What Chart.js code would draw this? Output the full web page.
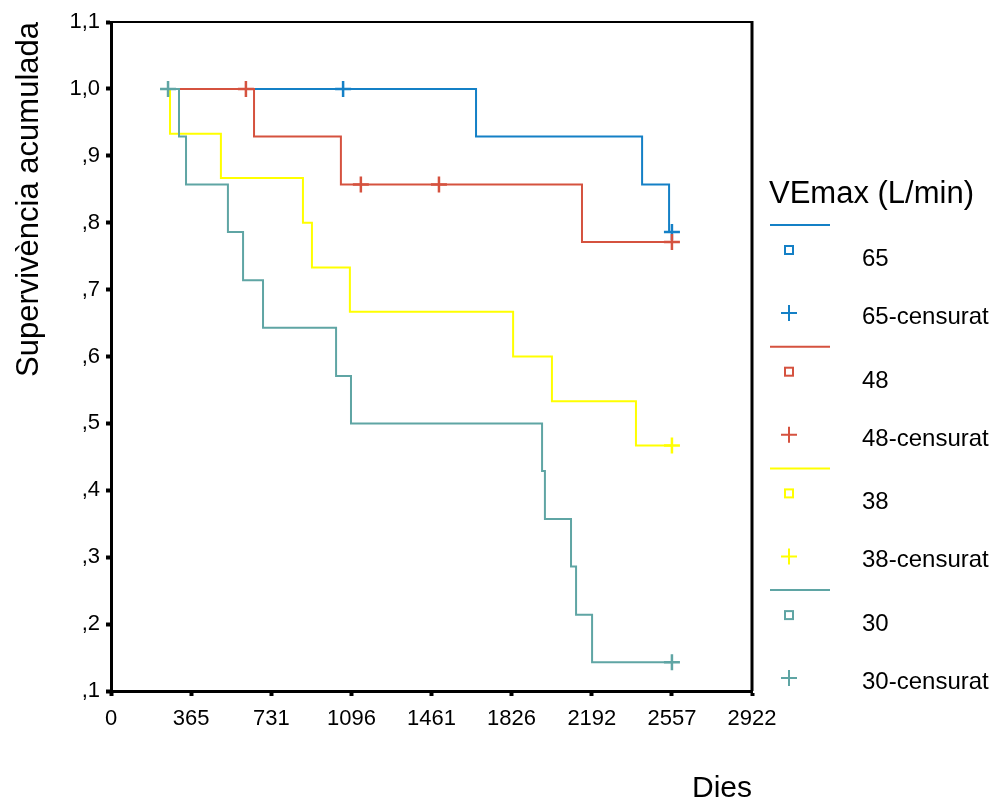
<!DOCTYPE html>
<html>
<head>
<meta charset="utf-8">
<title>Supervivència acumulada</title>
<script src="https://cdn.jsdelivr.net/npm/chart.js@4.4.1/dist/chart.umd.min.js"></script>
<style>
    html, body { margin: 0; padding: 0; background: #fff; }
    #wrap { width: 992px; height: 805px; }
</style>
</head>
<body>
<div id="wrap"><canvas id="graficoSupervivencia"></canvas></div>
<script>
// eixos
const xTicks = [0, 365, 731, 1096, 1461, 1826, 2192, 2557, 2922];
const yTicks = [0.1, 0.2, 0.3, 0.4, 0.5, 0.6, 0.7, 0.8, 0.9, 1.0, 1.1];
const yTickLabels = [',1', ',2', ',3', ',4', ',5', ',6', ',7', ',8', ',9', '1,0', '1,1'];

// grups de VEmax
const grups = ['65', '48', '38', '30'];
const colors = ['#1480c6', '#d5523f', '#ffff00', '#5fa5a4'];

// corbes de Kaplan-Meier: dies i supervivència acumulada
const dies65 = [255, 1664, 2421, 2544, 2557];
const surv65 = [1.0, 0.929, 0.857, 0.786, 0.786];
const dies48 = [255, 652, 1048, 2147, 2557];
const surv48 = [1.0, 0.929, 0.857, 0.771, 0.771];
const dies38 = [255, 269, 501, 875, 916, 1089, 1833, 2010, 2393, 2557];
const surv38 = [1.0, 0.933, 0.867, 0.8, 0.733, 0.667, 0.6, 0.533, 0.467, 0.467];
const dies30 = [255, 310, 342, 533, 602, 693, 1026, 1094, 1965, 1978, 2097, 2120, 2193, 2557];
const surv30 = [1.0, 0.929, 0.857, 0.786, 0.714, 0.643, 0.571, 0.5, 0.429, 0.357, 0.286, 0.214, 0.143, 0.143];

// casos censurats
const censDies65 = [1058, 2557];
const censSurv65 = [1.0, 0.786];
const censDies48 = [615, 1139, 1495, 2557];
const censSurv48 = [1.0, 0.857, 0.857, 0.771];
const censDies38 = [2557];
const censSurv38 = [0.467];
const censDies30 = [260, 2557];
const censSurv30 = [1.0, 0.143];

const FONT = "'Liberation Sans', Arial, sans-serif";

function punts(dies, valors) {
    return dies.map((d, i) => ({ x: d, y: valors[i] }));
}

const corbes = [
    [dies65, surv65, censDies65, censSurv65],
    [dies48, surv48, censDies48, censSurv48],
    [dies38, surv38, censDies38, censSurv38],
    [dies30, surv30, censDies30, censSurv30]
];

// el primer conjunt es dibuixa a sobre, per això van en ordre invers
const datasets = [];
for (let g = corbes.length - 1; g >= 0; g--) {
    const [d, s, cd, cs] = corbes[g];
    datasets.push({
        label: grups[g],
        data: punts(d, s),
        borderColor: colors[g],
        borderWidth: 2,
        stepped: 'before',
        pointRadius: 0,
        fill: false
    });
    datasets.push({
        label: grups[g] + '-censurat',
        data: punts(cd, cs),
        showLine: false,
        pointStyle: 'cross',
        pointRadius: 8,
        pointBorderWidth: 2.5,
        borderColor: colors[g],
        backgroundColor: colors[g]
    });
}

// marc superior/dret i llegenda al costat
const marcLlegenda = {
    id: 'marcLlegenda',
    afterDraw(chart) {
        const ctx = chart.ctx;
        const a = chart.chartArea;
        ctx.save();
        ctx.strokeStyle = '#000';
        ctx.lineWidth = 2;
        ctx.beginPath();
        ctx.moveTo(a.left, a.top);
        ctx.lineTo(a.right, a.top);
        ctx.stroke();
        ctx.lineWidth = 3;
        ctx.beginPath();
        ctx.moveTo(a.right, a.top - 1);
        ctx.lineTo(a.right, a.bottom);
        ctx.stroke();

        ctx.fillStyle = '#000';
        ctx.textAlign = 'left';
        ctx.textBaseline = 'alphabetic';
        ctx.font = '31px ' + FONT;
        ctx.fillText('VEmax (L/min)', 769, 203);

        ctx.font = '24px ' + FONT;
        grups.forEach((g, i) => {
            const y0 = 225 + i * 121.7;
            ctx.strokeStyle = colors[i];
            ctx.lineWidth = 2;
            ctx.beginPath();
            ctx.moveTo(770, y0);
            ctx.lineTo(830, y0);
            ctx.stroke();

            ctx.strokeRect(785, y0 + 21, 8, 8);

            ctx.beginPath();
            ctx.moveTo(781, y0 + 88);
            ctx.lineTo(797, y0 + 88);
            ctx.moveTo(789, y0 + 80);
            ctx.lineTo(789, y0 + 96);
            ctx.stroke();

            ctx.fillStyle = '#000';
            ctx.fillText(g, 862, y0 + 41);
            ctx.fillText(g + '-censurat', 862, y0 + 99);
        });
        ctx.restore();
    }
};

new Chart(document.getElementById('graficoSupervivencia'), {
    type: 'line',
    data: { datasets: datasets },
    options: {
        responsive: true,
        maintainAspectRatio: false,
        animation: false,
        layout: { padding: { top: 22, right: 240, bottom: 0, left: 0 } },
        plugins: {
            legend: { display: false },
            tooltip: { enabled: false }
        },
        scales: {
            x: {
                type: 'linear',
                min: 0,
                max: 2922,
                afterBuildTicks: scale => { scale.ticks = xTicks.map(v => ({ value: v })); },
                afterFit: scale => { scale.height = 114; },
                ticks: {
                    autoSkip: false,
                    maxRotation: 0,
                    padding: 10,
                    color: '#000',
                    font: { family: FONT, size: 22 },
                    callback: value => String(value)
                },
                grid: {
                    drawOnChartArea: false,
                    tickLength: 5,
                    tickWidth: 4,
                    tickColor: '#000'
                },
                border: { display: true, color: '#000', width: 3 },
                title: {
                    display: true,
                    text: 'Dies',
                    align: 'end',
                    color: '#000',
                    font: { family: FONT, size: 30, lineHeight: 1 },
                    padding: { top: 0, bottom: 1 }
                }
            },
            y: {
                min: 0.1,
                max: 1.1,
                afterBuildTicks: scale => { scale.ticks = yTicks.map(v => ({ value: v })); },
                afterFit: scale => { scale.width = 111; },
                ticks: {
                    autoSkip: false,
                    padding: 6,
                    color: '#000',
                    font: { family: FONT, size: 22 },
                    callback: (value, index) => yTickLabels[index]
                },
                grid: {
                    drawOnChartArea: false,
                    tickLength: 5,
                    tickWidth: 4,
                    tickColor: '#000'
                },
                border: { display: true, color: '#000', width: 3 },
                title: {
                    display: true,
                    text: 'Supervivència acumulada',
                    align: 'end',
                    color: '#000',
                    font: { family: FONT, size: 31 },
                    padding: { top: 11, bottom: 0 }
                }
            }
        }
    },
    plugins: [marcLlegenda]
});
</script>
</body>
</html>
